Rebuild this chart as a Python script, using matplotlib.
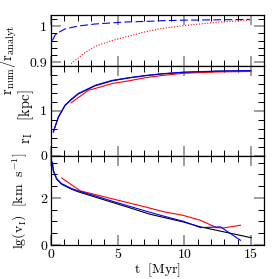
import matplotlib
matplotlib.use("Agg")
import matplotlib.pyplot as plt
from matplotlib.ticker import MultipleLocator

plt.rcParams["font.family"] = "serif"
plt.rcParams["font.serif"] = ["cmr10", "DejaVu Serif"]
plt.rcParams["mathtext.fontset"] = "cm"
plt.rcParams["axes.formatter.use_mathtext"] = True

# top panel: ratio of numerical to analytic radius
t_ratio_blue = [0.1, 0.3, 0.55, 1.05, 2.05, 3.3, 5.55, 7.4, 8.3, 10.0, 12.5, 14.9]
ratio_blue = [0.960, 0.975, 0.982, 0.992, 1.000, 1.0055, 1.011, 1.013, 1.0146, 1.016, 1.017, 1.018]
t_ratio_red = [1.5, 2.55, 3.3, 4.55, 5.8, 7.05, 8.3, 9.9, 12.4, 14.9]
ratio_red = [0.897, 0.927, 0.944, 0.960, 0.972, 0.984, 0.993, 1.001, 1.010, 1.0165]

# middle panel: ionisation front radius
t_r_blue = [0.17, 0.55, 1.05, 1.55, 2.05, 3.3, 4.55, 5.8, 7.05, 8.3, 9.9, 12.5, 14.9]
r_blue = [0.53, 0.87, 1.13, 1.27, 1.39, 1.57, 1.68, 1.74, 1.79, 1.83, 1.865, 1.89, 1.90]
t_r_black = [0.17, 0.55, 1.05, 1.55, 2.05, 3.3, 4.55, 5.8, 7.05, 8.3, 9.9, 12.5, 15.0]
r_black = [0.53, 0.86, 1.12, 1.26, 1.38, 1.56, 1.67, 1.735, 1.785, 1.825, 1.86, 1.885, 1.895]
t_r_red = [1.5, 2.8, 3.3, 4.55, 5.8, 7.05, 8.3, 9.9, 12.5, 14.9]
r_red = [1.18, 1.46, 1.50, 1.61, 1.67, 1.74, 1.79, 1.84, 1.87, 1.88]

# bottom panel: log of front velocity
t_v_blue = [0.1, 0.17, 0.42, 0.8, 1.55, 2.05, 3.3, 4.55, 5.8, 7.05, 8.3, 9.9, 11.2, 12.7, 14.2]
v_blue = [3.53, 3.18, 2.82, 2.61, 2.40, 2.30, 2.09, 1.87, 1.66, 1.45, 1.25, 1.01, 0.74, 0.77, 0.20]
t_v_black = [0.1, 0.17, 0.42, 0.8, 1.55, 2.05, 3.3, 4.55, 5.8, 7.4, 9.9, 11.2, 15.0]
v_black = [3.50, 3.15, 2.80, 2.58, 2.37, 2.26, 2.04, 1.82, 1.60, 1.31, 0.98, 0.77, 0.31]
t_v_red = [0.8, 2.2, 4.55, 7.05, 8.4, 9.9, 11.2, 12.4, 12.9, 14.2]
v_red = [2.85, 2.30, 1.97, 1.62, 1.42, 1.26, 1.05, 0.74, 0.72, 0.84]

fig = plt.figure(figsize=(2.79, 2.79), dpi=100)

left, width = 0.183, 0.765
ax1 = fig.add_axes([left, 0.763, width, 0.183])
ax2 = fig.add_axes([left, 0.442, width, 0.321])
ax3 = fig.add_axes([left, 0.122, width, 0.320])

lw = 0.8
ax1.plot(t_ratio_blue, ratio_blue, color="blue", lw=lw, ls=(0, (7, 3)))
ax1.plot(t_ratio_red, ratio_red, color="red", lw=lw, ls=(0, (1, 1.5)))

ax2.plot(t_r_black, r_black, color="black", lw=lw)
ax2.plot(t_r_red, r_red, color="red", lw=lw)
ax2.plot(t_r_blue, r_blue, color="blue", lw=lw)

ax3.plot(t_v_black, v_black, color="black", lw=lw)
ax3.plot(t_v_red, v_red, color="red", lw=lw)
ax3.plot(t_v_blue, v_blue, color="blue", lw=lw)

ax1.set_ylim(0.89, 1.03)
ax2.set_ylim(0, 2)
ax3.set_ylim(0, 3.8)

ax1.yaxis.set_major_locator(MultipleLocator(0.1))
ax1.yaxis.set_minor_locator(MultipleLocator(0.02))
ax2.yaxis.set_major_locator(MultipleLocator(1))
ax2.yaxis.set_minor_locator(MultipleLocator(0.2))
ax3.yaxis.set_major_locator(MultipleLocator(2))
ax3.yaxis.set_minor_locator(MultipleLocator(0.5))

for ax in (ax1, ax2, ax3):
    ax.set_xlim(0, 16)
    ax.xaxis.set_major_locator(MultipleLocator(5))
    ax.xaxis.set_minor_locator(MultipleLocator(1))
    ax.tick_params(which="both", direction="in", top=True, right=True, labelsize=10, pad=3)
    ax.tick_params(which="major", length=7, width=1.2, color="0.55")
    ax.tick_params(which="minor", length=4, width=0.7, color="black")
    for s in ax.spines.values():
        s.set_linewidth(0.9)

ax1.tick_params(labelbottom=False)
ax2.tick_params(labelbottom=False)
ax1.set_yticks([0.9, 1.0])
ax1.set_yticklabels(["0.9", "1"])
ax2.set_yticks([0, 1])
ax2.set_yticklabels(["0", "1"])
ax3.set_yticks([0, 2])
ax3.set_yticklabels(["0", "2"])
ax3.set_xticks([0, 5, 10, 15])
ax3.set_xticklabels(["0", "5", "10", "15"])

ax1.set_ylabel(r"$\mathrm{r_{num}/r_{analyt}}$", fontsize=10.5)
ax2.set_ylabel(r"$\mathrm{r_I\ \ \ [kpc]}$", fontsize=10.5)
ax3.set_ylabel(r"$\mathrm{lg(v_I)\ \ [km\ \ s^{-1}]}$", fontsize=10)
ax1.yaxis.set_label_coords(-0.15, 0.12)
ax2.yaxis.set_label_coords(-0.07, 0.43)
ax3.yaxis.set_label_coords(-0.10, 0.5)
ax3.set_xlabel(r"$\mathrm{t\ \ [Myr]}$", fontsize=10, labelpad=0)

fig.savefig("out.png", dpi=100)
